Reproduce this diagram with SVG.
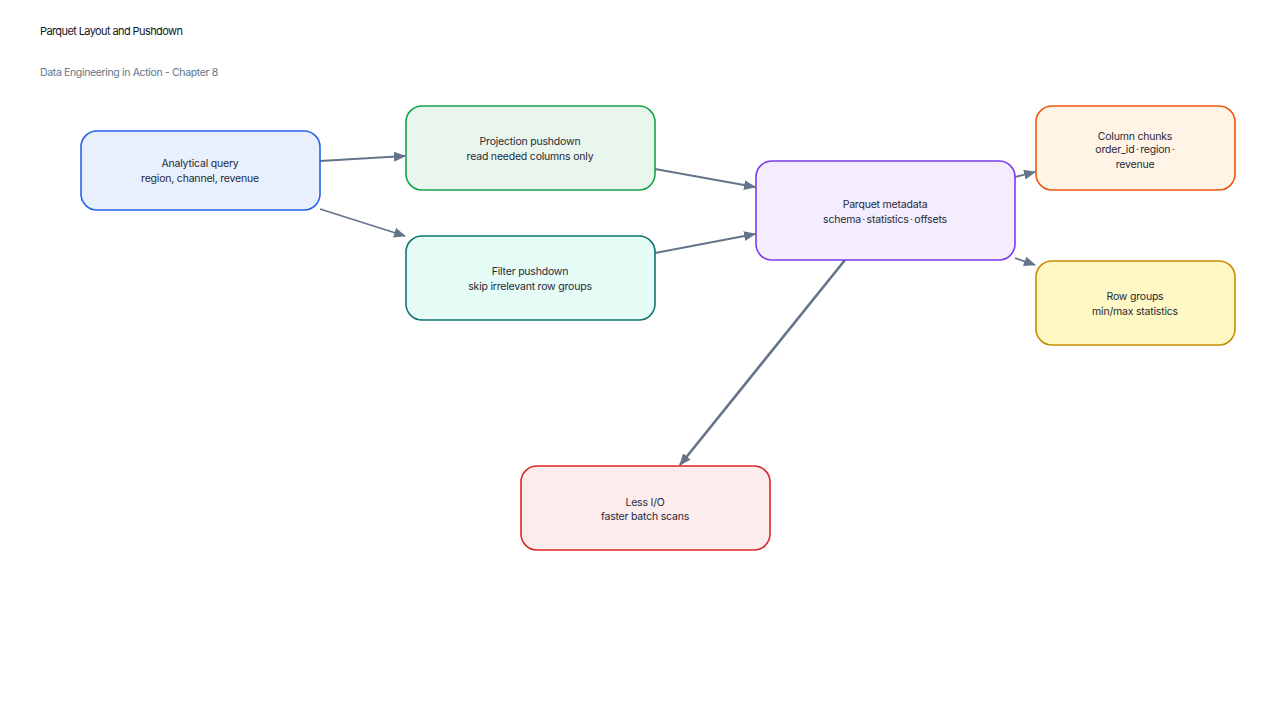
<svg xmlns="http://www.w3.org/2000/svg" width="1280" height="720" viewBox="0 0 1280 720">
<style>
text{font-family:Inter,"Liberation Sans",sans-serif;font-size:10.5px;fill:#1f2937;text-anchor:middle;letter-spacing:-0.2px}
.title{font-size:11px;fill:#111827;text-anchor:start;letter-spacing:-0.6px}
.sub{font-size:10.5px;fill:#64748b;text-anchor:start;letter-spacing:-0.35px}
.dots{word-spacing:-1.3px}
.node rect{stroke-width:1.6}
.edge{stroke:#64748b;stroke-width:1.8;fill:none;marker-end:url(#ah)}
</style>
<defs>
<marker id="ah" viewBox="0 0 12 10" refX="11" refY="5" markerWidth="12" markerHeight="10" markerUnits="userSpaceOnUse" orient="auto">
<path d="M0,0 L12,5 L0,10 z" fill="#64748b"/>
</marker>
</defs>
<rect width="1280" height="720" fill="#fff"/>
<text class="title" x="40" y="35">Parquet Layout and Pushdown</text>
<text class="sub" x="40" y="76">Data Engineering in Action - Chapter 8</text>
<g id="connectors">
<line class="edge" x1="320" y1="161" x2="405" y2="156"/>
<line class="edge" x1="320" y1="209" x2="405" y2="236"/>
<line class="edge" x1="655" y1="169" x2="755" y2="187"/>
<line class="edge" x1="655" y1="253" x2="755" y2="234"/>
<line class="edge" x1="1015" y1="177" x2="1035" y2="172"/>
<line class="edge" x1="1015" y1="258" x2="1035" y2="265"/>
<line class="edge" x1="845" y1="260" x2="680" y2="465" style="stroke-width:2.6"/>
</g>
<g id="analytical-query" class="node">
<rect x="81" y="131" width="239" height="79" rx="16" fill="#e8f0fe" stroke="#2563eb"/>
<text x="200" y="167">Analytical query</text>
<text x="200" y="182">region, channel, revenue</text>
</g>
<g id="projection-pushdown" class="node">
<rect x="406" y="106" width="249" height="84" rx="16" fill="#e9f6ee" stroke="#16a34a"/>
<text x="530" y="145">Projection pushdown</text>
<text x="530" y="160">read needed columns only</text>
</g>
<g id="filter-pushdown" class="node">
<rect x="406" y="236" width="249" height="84" rx="16" fill="#e6fcf7" stroke="#0f766e"/>
<text x="530" y="275">Filter pushdown</text>
<text x="530" y="290">skip irrelevant row groups</text>
</g>
<g id="parquet-metadata" class="node">
<rect x="756" y="161" width="259" height="99" rx="16" fill="#f3edfe" stroke="#7c3aed"/>
<text x="885" y="208">Parquet metadata</text>
<text class="dots" x="885" y="223">schema · statistics · offsets</text>
</g>
<g id="column-chunks" class="node">
<rect x="1036" y="106" width="199" height="84" rx="16" fill="#fff4e6" stroke="#ea580c"/>
<text x="1135" y="140">Column chunks</text>
<text class="dots" x="1135" y="153">order_id · region ·</text>
<text x="1135" y="168">revenue</text>
</g>
<g id="row-groups" class="node">
<rect x="1036" y="261" width="199" height="84" rx="16" fill="#fef8c4" stroke="#ca8a04"/>
<text x="1135" y="300">Row groups</text>
<text x="1135" y="315">min/max statistics</text>
</g>
<g id="less-io" class="node">
<rect x="521" y="466" width="249" height="84" rx="16" fill="#fdecec" stroke="#dc2626"/>
<text x="645" y="506">Less I/O</text>
<text x="645" y="520">faster batch scans</text>
</g>
</svg>
